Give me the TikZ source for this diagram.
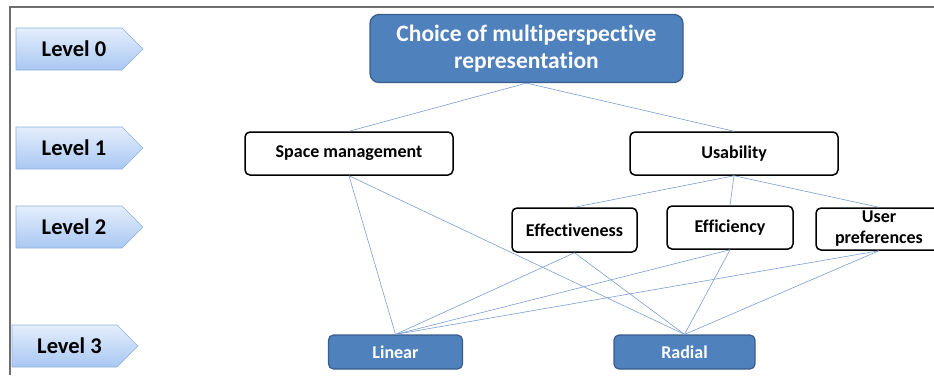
\documentclass[tikz,border=0pt]{standalone}
\usepackage{fontspec}
\setmainfont{Carlito}[Ligatures=NoCommon]
\definecolor{darkblue}{HTML}{4F81BD}
\definecolor{darkblueedge}{HTML}{385D8A}
\definecolor{linkblue}{HTML}{7A9ED3}
\definecolor{lvltop}{HTML}{E4EEFC}
\definecolor{lvlbot}{HTML}{A9C7F2}
\definecolor{lvledge}{HTML}{8DB0DE}
\definecolor{framegray}{HTML}{6E6E6E}
\tikzset{
  whitebox/.style={draw=black, line width=1.5pt, rounded corners=5pt, fill=white,
    font=\bfseries\fontsize{18}{20}\selectfont, align=center, inner sep=0pt},
  bluebox/.style={draw=darkblueedge, line width=1.2pt, rounded corners=5pt, fill=darkblue,
    text=white, font=\bfseries\fontsize{18}{20}\selectfont, align=center, inner sep=0pt},
  link/.style={draw=linkblue, line width=0.6pt},
  levelshape/.style={draw=lvledge, line width=0.6pt, top color=lvltop, bottom color=lvlbot},
  leveltext/.style={font=\bfseries\fontsize{22.5}{24}\selectfont, inner sep=0pt}
}
% level marker: pentagon arrow with left edge x, top y, width w (height 42, tip 21)
\newcommand{\levelmark}[5]{%
  \path[levelshape] (#2,#3) -- ++(#4-21,0) -- ++(21,21) -- ++(-21,21) -- ++(-#4+21,0) -- cycle;
  \node[leveltext] (#1) at ({#2+(#4-21)/2+5},{#3+21}) {#5};
}
\begin{document}
\begin{tikzpicture}[x=1pt,y=-1pt]
  \useasboundingbox (0,0) rectangle (934,375);
  \begin{scope}
    \clip (0,0) rectangle (934,375);
    % frame
    \draw[framegray, line width=1.4pt] (934,7) -- (10,7) -- (10,375);

    % level markers
    \levelmark{lv0}{16}{28}{127}{Level 0}
    \levelmark{lv1}{16}{127}{127}{Level 1}
    \levelmark{lv2}{16}{206}{127}{Level 2}
    \levelmark{lv3}{12}{325}{126}{Level 3}

    % level 0
    \node[bluebox, rounded corners=9pt, minimum width=313pt, minimum height=68pt,
      font=\bfseries\fontsize{23.5}{27}\selectfont] (root) at (526.5,48.5)
      {Choice of multiperspective\\representation};
    % level 1
    \node[whitebox, minimum width=208pt, minimum height=43pt] (space) at (349,153.5) {Space management};
    \node[whitebox, minimum width=208pt, minimum height=43pt] (usab) at (734,153.5) {Usability};
    % level 2
    \node[whitebox, minimum width=125pt, minimum height=44pt] (effect) at (574.5,230) {Effectiveness};
    \node[whitebox, minimum width=126pt, minimum height=43pt] (effic) at (730,227.5) {Efficiency};
    \node[whitebox, minimum width=126pt, minimum height=42pt, font=\bfseries\fontsize{18}{21}\selectfont]
      (userp) at (879,229) {User\\preferences};
    % level 3
    \node[bluebox, minimum width=134pt, minimum height=34pt] (linear) at (395.5,352) {Linear};
    \node[bluebox, minimum width=141pt, minimum height=34pt] (radial) at (684.5,352) {Radial};

    % connectors
    \draw[link] (root.south) -- (space.north);
    \draw[link] (root.south) -- (usab.north);
    \draw[link] (usab.south) -- (effect.north);
    \draw[link] (usab.south) -- (effic.north);
    \draw[link] (usab.south) -- (userp.north);
    \foreach \src in {space, effect, effic, userp} {
      \draw[link] (\src.south) -- (linear.north);
      \draw[link] (\src.south) -- (radial.north);
    }
  \end{scope}
\end{tikzpicture}
\end{document}
